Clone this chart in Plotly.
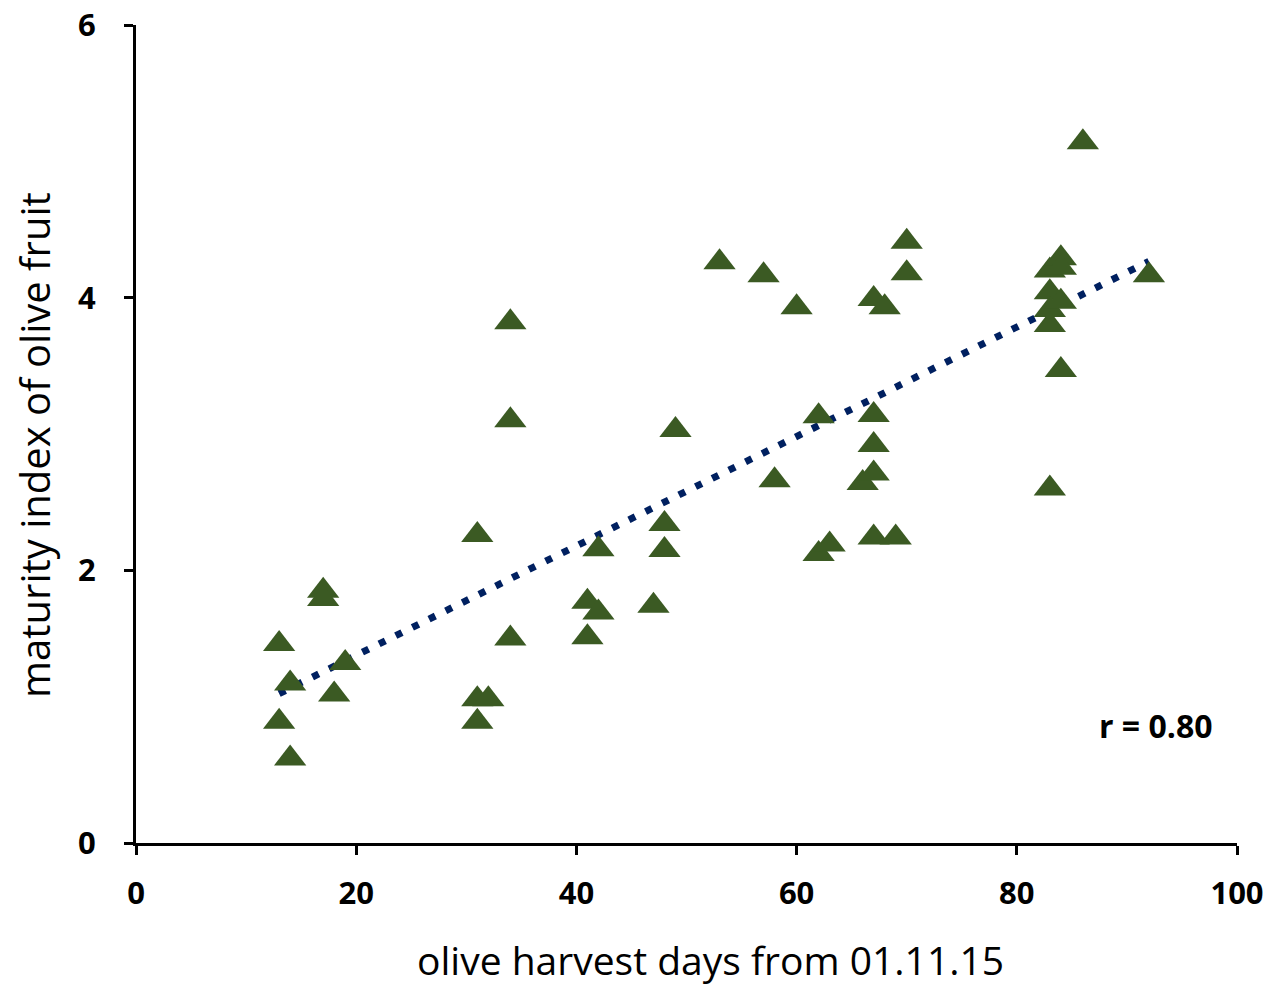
import numpy as np
import plotly.graph_objects as go

# harvest day (x) and maturity index (y)
days = [13, 13, 14, 14, 17, 17, 18, 19,
        31, 31, 31, 32, 34, 34, 34,
        41, 41, 42, 42, 47, 48, 48, 49,
        53, 57, 58, 60, 62, 62, 63, 66,
        67, 67, 67, 67, 67, 68, 69, 70, 70,
        83, 83, 83, 83, 83, 84, 84, 84, 84, 86, 92]
maturity = [1.46, 0.89, 1.17, 0.62, 1.85, 1.79, 1.09, 1.32,
            2.26, 1.055, 0.89, 1.055, 3.82, 3.10, 1.50,
            1.77, 1.51, 2.155, 1.69, 1.74, 2.34, 2.15, 3.03,
            4.26, 4.165, 2.66, 3.93, 3.13, 2.12, 2.19, 2.64,
            3.99, 3.14, 2.92, 2.71, 2.24, 3.93, 2.24, 4.41, 4.18,
            4.20, 4.04, 3.91, 3.80, 2.60, 4.29, 4.22, 3.97, 3.47, 5.14, 4.165]

x_ticks = [0, 20, 40, 60, 80, 100]
y_ticks = [0, 2, 4, 6]
r_label = "r = 0.80"
x_title = "olive harvest days from 01.11.15"
y_title = "maturity index of olive fruit"

slope, intercept = np.polyfit(days, maturity, 1)
trend_x = [min(days), max(days)]
trend_y = [slope * v + intercept for v in trend_x]

fig = go.Figure()
fig.add_trace(go.Scatter(
    x=trend_x, y=trend_y, mode="lines",
    line=dict(color="#002060", width=7, dash="7px,11.6px"),
    hoverinfo="skip", showlegend=False))
fig.add_trace(go.Scatter(
    x=days, y=maturity, mode="markers",
    marker=dict(symbol="triangle-up", size=28, color="#3b5a23",
                line=dict(width=0)),
    showlegend=False))

fig.add_annotation(x=92.6, y=0.86, xref="x", yref="y", text=r_label,
                   showarrow=False,
                   font=dict(family="Open Sans", size=32, color="black", weight="bold"))

title_font = dict(family="Open Sans", size=39, color="black")
fig.add_annotation(x=0.5222, y=-0.1425, xref="paper", yref="paper", text=x_title,
                   showarrow=False, xanchor="center", yanchor="middle", font=title_font)
fig.add_annotation(x=-0.0917, y=0.4866, xref="paper", yref="paper", text=y_title,
                   showarrow=False, xanchor="center", yanchor="middle",
                   textangle=-90, font=dict(family="Open Sans", size=40, color="black"))

axis_font = dict(family="Open Sans", size=31, color="black", weight="bold")
fig.update_xaxes(range=[0, 100], tickvals=x_ticks, ticks="outside", ticklen=9,
                 tickwidth=3, tickcolor="black", showline=True, linewidth=3,
                 linecolor="black", showgrid=False, zeroline=False,
                 tickfont=axis_font, ticklabelstandoff=12)
fig.update_yaxes(range=[0, 6], tickvals=y_ticks, ticks="outside", ticklen=9,
                 tickwidth=3, tickcolor="black", showline=True, linewidth=3,
                 linecolor="black", showgrid=False, zeroline=False,
                 tickfont=axis_font, ticklabelstandoff=22)

fig.update_layout(width=1264, height=987, plot_bgcolor="white", paper_bgcolor="white",
                  margin=dict(l=136, r=27, t=25, b=144, autoexpand=False),
                  showlegend=False)

fig.write_html("out.html")
